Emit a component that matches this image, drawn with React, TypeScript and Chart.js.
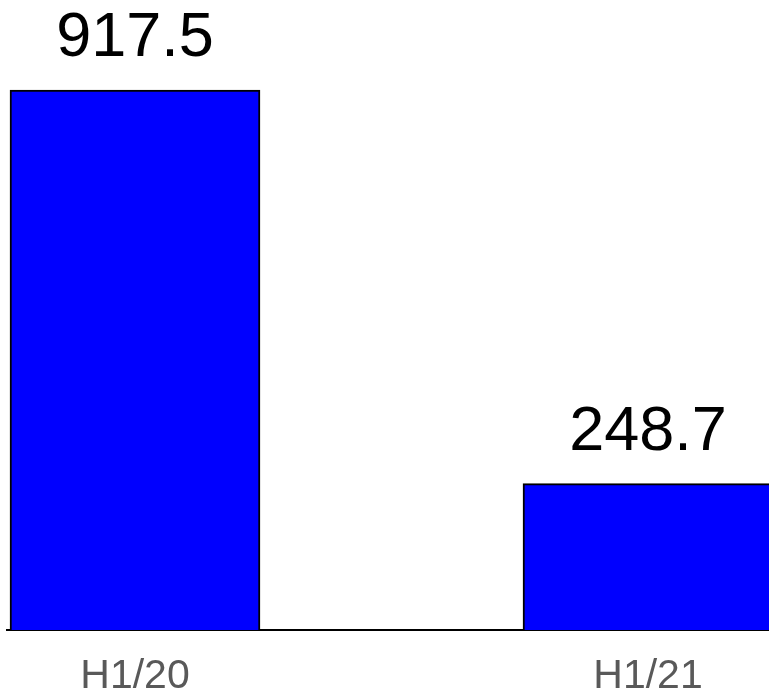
import React, { useEffect, useRef } from "react";
import { Chart, registerables } from "chart.js";

Chart.register(...registerables);

const categories = ["H1/20", "H1/21"];
const values = [917.5, 248.7];
const valueLabels = ["917.5", "248.7"];

const FONT = '"Liberation Sans", Arial, sans-serif';

const valueLabelPlugin = {
  id: "valueLabels",
  afterDatasetsDraw(chart: any) {
    const ctx = chart.ctx;
    const meta = chart.getDatasetMeta(0);
    ctx.save();
    ctx.font = `63px ${FONT}`;
    ctx.fillStyle = "#000000";
    ctx.textAlign = "center";
    ctx.textBaseline = "alphabetic";
    meta.data.forEach((bar: any, i: number) => {
      ctx.fillText(valueLabels[i], bar.x, bar.y - 34);
    });
    ctx.restore();
  },
};

export default function App() {
  const ref = useRef<HTMLCanvasElement | null>(null);

  useEffect(() => {
    if (!ref.current) return;
    const chart = new Chart(ref.current, {
      type: "bar",
      data: {
        datasets: [
          {
            data: values.map((v, i) => ({ x: i, y: v })),
            backgroundColor: "#0000ff",
            borderColor: "#000000",
            borderWidth: 2,
            barThickness: 250,
          },
        ],
      },
      options: {
        animation: false,
        responsive: false,
        maintainAspectRatio: false,
        layout: {
          padding: { left: 6.75, right: 23.75, top: 41.44, bottom: 0 },
        },
        plugins: {
          legend: { display: false },
          tooltip: { enabled: false },
          title: { display: false },
        },
        scales: {
          x: {
            type: "linear",
            offset: false,
            bounds: "data",
            min: -0.25,
            max: 1.25,
            grid: { display: false, drawTicks: false, offset: false },
            border: { display: true, color: "#000000", width: 2 },
            afterBuildTicks: (scale: any) => {
              scale.ticks = categories.map((_, i) => ({ value: i }));
            },
            afterFit: (scale: any) => {
              scale.height = 64;
            },
            ticks: {
              color: "#595959",
              font: { family: FONT, size: 41 },
              padding: 22,
              maxRotation: 0,
              autoSkip: false,
              callback: (v: any) => categories[Number(v)] ?? "",
            },
          },
          y: {
            display: false,
            min: 0,
            max: 1000,
          },
        },
      },
      plugins: [valueLabelPlugin],
    });
    return () => chart.destroy();
  }, []);

  return (
    <div
      style={{
        position: "fixed",
        left: 0,
        top: 0,
        width: 769,
        height: 694,
        overflow: "hidden",
        background: "#ffffff",
      }}
    >
      <canvas
        ref={ref}
        width={800}
        height={694}
        style={{ display: "block", width: 800, height: 694 }}
      />
    </div>
  );
}
